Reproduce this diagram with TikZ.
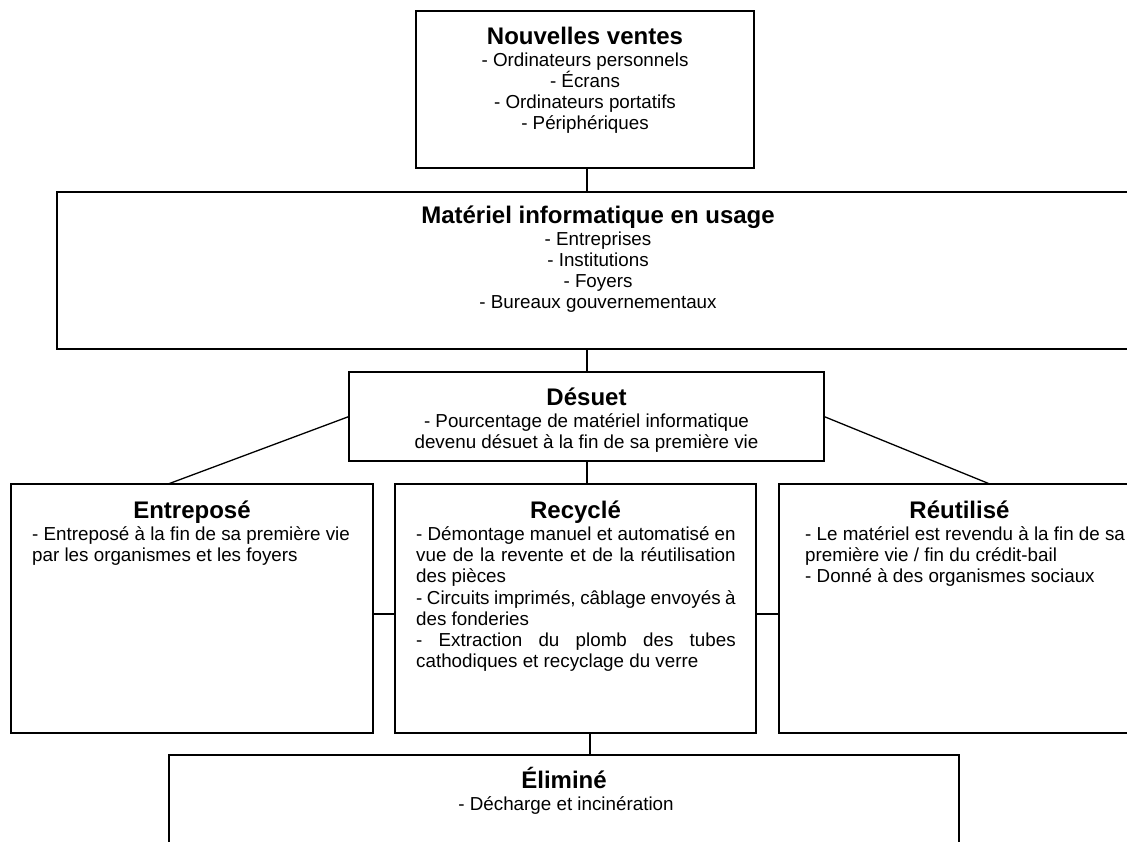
\documentclass[tikz,border=0pt]{standalone}
\usepackage{fontspec}
\setmainfont{Liberation Sans}
\usetikzlibrary{calc}
\newcommand\ttlfont{\fontsize{24}{28}\selectfont\bfseries}
\newcommand\bdyfont{\fontsize{18.8}{21.2}\selectfont}
\tikzset{
  boxnode/.style={draw, line width=1.6pt, inner sep=0pt, outer sep=0pt, anchor=north west},
  ttl/.style={inner sep=0pt, anchor=base, font=\ttlfont},
  bdy/.style={inner sep=0pt, font=\bdyfont},
  conn/.style={line width=1.3pt}
}
\begin{document}
\begin{tikzpicture}[x=1pt,y=-1pt]
\useasboundingbox (0,0) rectangle (1127,841);
\fill[white] (0,0) rectangle (1127,841);
\clip (0,0) rectangle (1127,841);

% boxes
\node[boxnode, minimum width=338pt, minimum height=157pt] (top) at (416,11) {};
\node[boxnode, minimum width=1083pt, minimum height=157pt] (mid) at (57,192) {};
\node[boxnode, minimum width=475pt, minimum height=89pt] (des) at (349,372) {};
\node[boxnode, minimum width=362pt, minimum height=249pt] (ent) at (11,484) {};
\node[boxnode, minimum width=361pt, minimum height=249pt] (rec) at (395,484) {};
\node[boxnode, minimum width=361pt, minimum height=249pt] (reu) at (779,484) {};
\node[boxnode, minimum width=790pt, minimum height=145pt] (eli) at (169,755) {};

% connector end points on the boxes
\coordinate (topS) at ($(top.south west)!0.506!(top.south east)$);
\coordinate (desS) at ($(des.south west)!0.501!(des.south east)$);
\coordinate (recS) at ($(rec.south west)!0.54!(rec.south east)$);
\coordinate (entN) at ($(ent.north west)!0.434!(ent.north east)$);
\coordinate (reuN) at ($(reu.north west)!0.584!(reu.north east)$);
\coordinate (entE) at ($(ent.north east)!0.522!(ent.south east)$);
\coordinate (recW) at ($(rec.north west)!0.522!(rec.south west)$);
\coordinate (recE) at ($(rec.north east)!0.522!(rec.south east)$);
\coordinate (reuW) at ($(reu.north west)!0.522!(reu.south west)$);

% connectors
\draw[conn] (topS) -- (topS |- mid.north);
\draw[conn] (topS |- mid.south) -- (topS |- des.north);
\draw[conn] (desS) -- (desS |- rec.north);
\draw[conn] (recS) -- (recS |- eli.north);
\draw[conn] (des.west) -- (entN);
\draw[conn] (des.east) -- (reuN);
\draw[conn] (entE) -- (recW);
\draw[conn] (recE) -- (reuW);

% texts
\node[ttl] (topT) at (585,44) {Nouvelles ventes};
\node[bdy, anchor=base] (topB) at (585,66) {\parbox[t]{330pt}{\centering - Ordinateurs personnels\\- Écrans\\- Ordinateurs portatifs\\- Périphériques\par}};

\node[ttl] (midT) at (598,223) {Matériel informatique en usage};
\node[bdy, anchor=base] (midB) at (598,245) {\parbox[t]{400pt}{\centering - Entreprises\\- Institutions\\- Foyers\\- Bureaux gouvernementaux\par}};

\node[ttl] (desT) at (586.5,405) {Désuet};
\node[bdy, anchor=base] (desB) at (586.5,427) {\parbox[t]{460pt}{\centering - Pourcentage de matériel informatique\\devenu désuet à la fin de sa première vie\par}};

\node[ttl] (entT) at (192,518) {Entreposé};
\node[bdy, anchor=base west] (entB) at (32,540.5) {\parbox[t]{330pt}{\raggedright - Entreposé à la fin de sa première vie\\par les organismes et les foyers\par}};

\node[ttl] (recT) at (575.5,518) {Recyclé};
\node[bdy, anchor=base west] (recB) at (416,540.5) {\parbox[t]{319.5pt}{\tolerance=10000\hbadness=10000 - Démontage manuel et automatisé en\linebreak vue de la revente et de la réutilisation\linebreak des pièces\par - Circuits imprimés, câblage envoyés à\linebreak des fonderies\par - Extraction du plomb des tubes\linebreak cathodiques et recyclage du verre\par}};

\node[ttl] (reuT) at (959.5,518) {Réutilisé};
\node[bdy, anchor=base west] (reuB) at (805,540.5) {\parbox[t]{330pt}{\raggedright - Le matériel est revendu à la fin de sa\\première vie / fin du crédit-bail\\- Donné à des organismes sociaux\par}};

\node[ttl] (eliT) at (564,788) {Éliminé};
\node[bdy, anchor=base] (eliB) at (566,810.5) {- Décharge et incinération};
\end{tikzpicture}
\end{document}
